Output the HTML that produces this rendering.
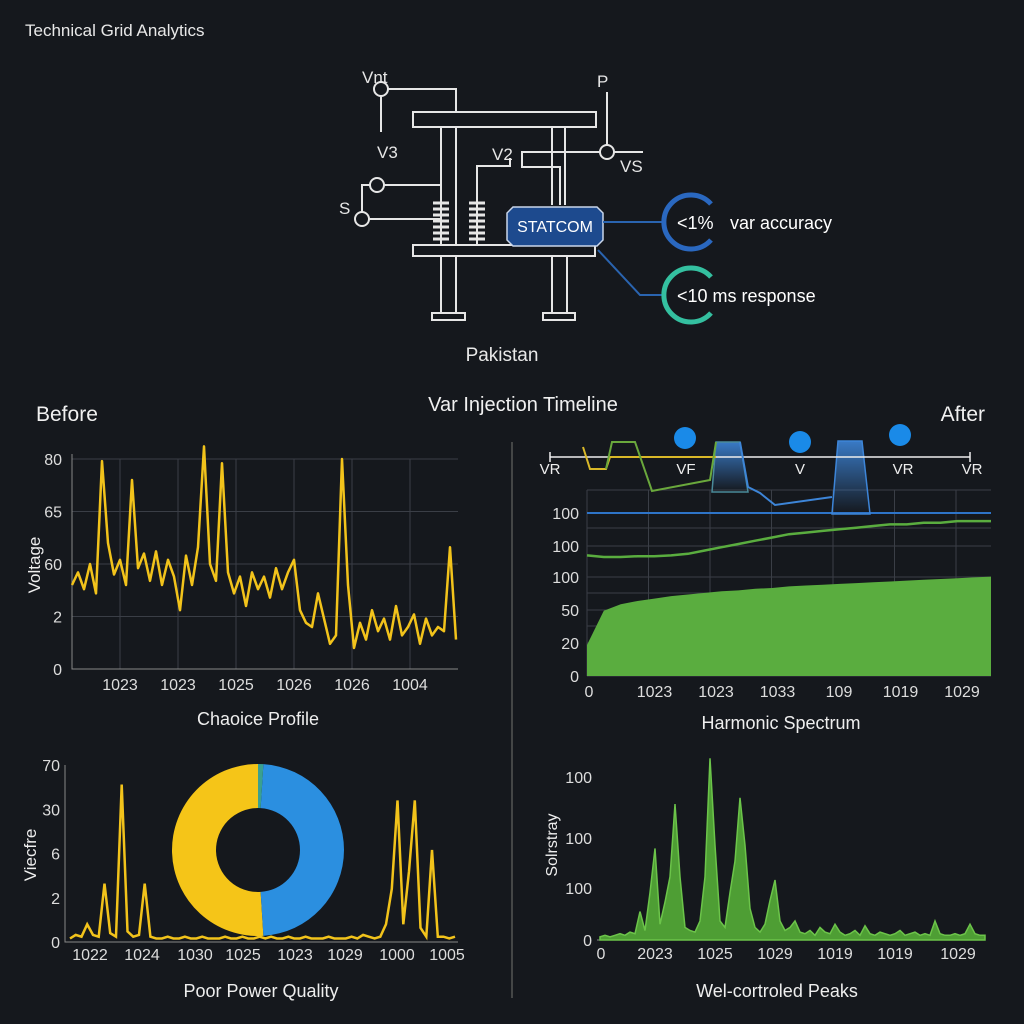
<!DOCTYPE html>
<html><head><meta charset="utf-8"><style>
html,body{margin:0;padding:0;background:#15181d;}
svg{display:block;font-family:"Liberation Sans",sans-serif;}
</style></head><body>
<svg id="root" width="1024" height="1024" viewBox="0 0 1024 1024" xmlns="http://www.w3.org/2000/svg">
<rect width="1024" height="1024" fill="#15181d"/>
<text x="25" y="36" fill="#e8e8e8" font-size="17">Technical Grid Analytics</text>

<g stroke="#e6e6e6" stroke-width="2" fill="none">
  <circle cx="381" cy="89" r="7"/><path d="M388 89H456V112M381 96V132"/>
  <rect x="413" y="112" width="183" height="15"/>
  <path d="M441 127V200M456 127V245M552 127V205M565 127V205"/>
  <path d="M607 92V145M614 152H643M600 152H522V167H560V205"/>
  <circle cx="607" cy="152" r="7"/>
  <circle cx="377" cy="185" r="7"/><path d="M384 185H441V200"/>
  <circle cx="362" cy="219" r="7"/><path d="M369 219H441M362 212V185H370"/>
  <path d="M477 200V166H510V158"/>
  <g stroke-width="3"><path d="M433 203h16M433 209h16M433 215h16M433 221h16M433 227h16M433 233h16M433 239h16M469 203h16M469 209h16M469 215h16M469 221h16M469 227h16M469 233h16M469 239h16"/></g>
  <path d="M441 200V245M477 200V245"/>
  <rect x="413" y="245" width="182" height="11"/>
  <path d="M441 256V313M456 256V313M552 256V313M567 256V313"/>
  <rect x="432" y="313" width="33" height="7"/><rect x="543" y="313" width="32" height="7"/>
</g>
<g fill="#e6e6e6" font-size="17">
  <text x="362" y="83">Vnt</text><text x="377" y="158">V3</text><text x="597" y="87">P</text>
  <text x="492" y="160">V2</text><text x="620" y="172">VS</text><text x="339" y="214">S</text>
</g>
<g>
  <path d="M513 207H597L603 213V240L597 246H513L507 240V213Z" fill="#1d4a8e" stroke="#c9d6ea" stroke-width="1.5"/>
  <text x="555" y="232" fill="#fff" font-size="16" text-anchor="middle">STATCOM</text>
</g>
<path d="M603 222H662" stroke="#2a64b0" stroke-width="2"/>
<path d="M598 250L640 295H662" stroke="#2a64b0" stroke-width="2" fill="none"/>
<path d="M711 204A27 27 0 1 0 711 240" stroke="#2a68c0" stroke-width="5" fill="none"/>
<path d="M711 277A27 27 0 1 0 711 313" stroke="#34c0a0" stroke-width="5" fill="none"/>
<text x="677" y="229" fill="#fff" font-size="18">&lt;1%  <tspan x="730">var accuracy</tspan></text>
<text x="677" y="302" fill="#fff" font-size="18">&lt;10 ms response</text>
<text x="502" y="361" fill="#e8e8e8" font-size="19" text-anchor="middle">Pakistan</text>

<text x="36" y="421" fill="#f0f0f0" font-size="21">Before</text>
<text x="523" y="411" fill="#f0f0f0" font-size="20" text-anchor="middle">Var Injection Timeline</text>
<text x="985" y="421" fill="#f0f0f0" font-size="21" text-anchor="end">After</text>
<line x1="512" y1="442" x2="512" y2="998" stroke="#555" stroke-width="1.5"/>

<g id="tl"></g>
<g id="tr"></g>
<g id="bl"></g>
<g id="br"></g>
</svg>
<script>
const NS="http://www.w3.org/2000/svg";
// ---- data ----
const voltTicks=["0","2","60","65","80"];
const voltXLabels=["1023","1023","1025","1026","1026","1004"];
const voltValues=[40,46,38,50,36,99,60,45,52,40,90,48,55,42,56,40,52,44,28,54,40,58,106,50,42,98,46,36,44,30,46,38,44,34,48,38,46,52,28,22,20,36,24,12,16,100,40,10,22,14,28,18,24,14,30,16,20,26,12,24,16,20,18,58,14];
const harmTicks=["0","20","50","100","100","100"];
const harmXLabels=["0","1023","1023","1033","109","1019","1029"];
const harmArea=[19,40,44,46,47.5,49,50,51,52,52.5,53.5,54,55,55.5,56,56.5,57,57.5,58,58.5,59,59.5,60,60.5,61];
const harmLine=[74,73,73,73.5,73.5,74,75,77,79,81,83,85,87,88,89,90,91,92,93,93,94,94,95,95,95];
const timelineLabels=["VR","VF","V","VR","VR"];
const pqTicks=["0","2","6","30","70"];
const pqXLabels=["1022","1024","1030","1025","1023","1029","1000","1005"];
const pqValues=[2,4,3,10,4,3,33,5,3,89,6,3,4,33,3,2,2,3,2,2,3,2,2,3,2,2,2,3,2,2,3,2,2,3,2,3,2,2,3,2,2,3,2,2,2,3,2,2,2,3,2,4,3,2,3,10,30,80,10,40,80,8,3,52,3,3,2,3];
const donutShares=[51,48,1];
const peakTicks=["0","100","100","100"];
const peakXLabels=["0","2023","1025","1029","1019","1019","1029"];
const peakValues=[2,3,2,3,4,3,5,4,18,6,30,58,10,24,40,86,40,8,6,5,12,40,115,60,12,8,30,50,90,60,20,8,5,10,25,38,12,6,8,12,5,4,6,3,8,5,4,10,5,3,4,6,3,9,4,3,5,4,3,4,6,3,4,5,3,4,3,12,4,3,3,4,3,4,10,4,3,3];

function el(parent,tag,attrs,text){const e=document.createElementNS(NS,tag);for(const k in attrs)e.setAttribute(k,attrs[k]);if(text!=null)e.textContent=text;parent.appendChild(e);return e;}
function lin(d0,d1,r0,r1){return v=>r0+(v-d0)/(d1-d0)*(r1-r0);}

// ---- top-left voltage ----
(function(){
 const g=document.getElementById('tl');
 const X0=72,X1=458,Y0=669,Y1=459;
 const y=lin(0,100,Y0,Y1);
 voltTicks.forEach((t,i)=>{const yy=y(i*25);
  const l=el(g,'line',{x1:X0,x2:X1,y1:yy,y2:yy,stroke:'#3a3e46','stroke-width':1});
  
  const tx=el(g,'text',{x:62,y:yy+6,fill:'#ddd','font-size':16,'text-anchor':'end'},t);
  });
 voltXLabels.forEach((t,i)=>{const xx=120+i*58;
  const l=el(g,'line',{x1:xx,x2:xx,y1:Y1,y2:Y0,stroke:'#3a3e46','stroke-width':1});
  
  const tx=el(g,'text',{x:xx,y:690,fill:'#ddd','font-size':16,'text-anchor':'middle'},t);
  });
 const ax=el(g,'path',{d:`M${X0} ${Y1-5}V${Y0}H${X1}`,stroke:'#888',fill:'none'});
 
 const x=lin(0,voltValues.length-1,X0,456);
 const p=el(g,'path',{d:voltValues.map((v,i)=>(i?'L':'M')+x(i).toFixed(1)+' '+y(v).toFixed(1)).join(''),stroke:'#f2c31b','stroke-width':2.5,fill:'none','stroke-linejoin':'round'});
 
 const yl=el(g,'text',{x:0,y:0,fill:'#eee','font-size':17,'text-anchor':'middle',transform:'translate(40,565) rotate(-90)'},'Voltage');
 
 const tt=el(g,'text',{x:258,y:725,fill:'#eee','font-size':18,'text-anchor':'middle'},'Chaoice Profile');
 
})();

// ---- top-right harmonic ----
(function(){
 const g=document.getElementById('tr');
 const X0=587,X1=991,Y0=676,Y1=513;
 const tickY=[676,643,610,577,546,513];
 [490,528,593,626].forEach(yy=>{const l=el(g,'line',{x1:X0,x2:X1,y1:yy,y2:yy,stroke:'#3a3e46'});});
 harmTicks.forEach((t,i)=>{const yy=tickY[i];
  const l=el(g,'line',{x1:X0,x2:X1,y1:yy,y2:yy,stroke:'#3a3e46'});
  
  const tx=el(g,'text',{x:579,y:yy+6,fill:'#ddd','font-size':16,'text-anchor':'end'},t);
  });
 harmXLabels.forEach((t,i)=>{const xx=X0+i*61.5;
  const l=el(g,'line',{x1:xx,x2:xx,y1:490,y2:Y0,stroke:'#3a3e46'});
  
  const tx=el(g,'text',{x:i?xx+6:xx+2,y:697,fill:'#ddd','font-size':16,'text-anchor':'middle'},t);
  });
 const y=lin(0,100,Y0,Y1);
 const x=lin(0,harmArea.length-1,X0,X1);
 const ad='M'+X0+' '+Y0+harmArea.map((v,i)=>'L'+x(i).toFixed(1)+' '+y(v).toFixed(1)).join('')+'L'+X1+' '+Y0+'Z';
 const a=el(g,'path',{d:ad,fill:'#5aad3f','stroke-linejoin':'round'});
 
 const bl=el(g,'line',{x1:X0,x2:X1,y1:513,y2:513,stroke:'#2e74c8','stroke-width':2});
 
 const ln=el(g,'path',{d:harmLine.map((v,i)=>(i?'L':'M')+x(i).toFixed(1)+' '+y(v).toFixed(1)).join(''),stroke:'#5aad3f','stroke-width':2.5,fill:'none'});
 
 const defs=el(g,'defs',{});const gr=el(defs,'linearGradient',{id:'bf',x1:0,y1:0,x2:0,y2:1});
 el(gr,'stop',{offset:0,'stop-color':'#3d85d8','stop-opacity':0.9});el(gr,'stop',{offset:1,'stop-color':'#3d85d8','stop-opacity':0});
 const b1=el(g,'path',{d:'M716 442H740L748 492H712Z',fill:'url(#bf)',stroke:'#4a8a9a','stroke-width':1.5});
 
 const b2=el(g,'path',{d:'M838 441H862L870 514H832Z',fill:'url(#bf)',stroke:'#3d85d8','stroke-width':1.5});
 
 const ta=el(g,'path',{d:'M550 457H970M550 452V462M970 452V462',stroke:'#eee','stroke-width':1.5,fill:'none'});
 
 const yl=el(g,'path',{d:'M583 447L590 469H606L610 457H716',stroke:'#d9b828','stroke-width':2,fill:'none'});
 
 const gl=el(g,'path',{d:'M606 469L612 442H635L652 491L710 480L716 442',stroke:'#6aa83c','stroke-width':2,fill:'none'});
 
 const bl2=el(g,'path',{d:'M740 442L748 487L760 493L775 505L832 497',stroke:'#3d85d8','stroke-width':2,fill:'none'});
 
 const lx=[550,686,800,903,972];
 timelineLabels.forEach((t,i)=>{const tx=el(g,'text',{x:lx[i],y:474,fill:'#eee','font-size':15,'text-anchor':'middle'},t);
  });
 [[685,438],[800,442],[900,435]].forEach(c=>{const d=el(g,'circle',{cx:c[0],cy:c[1],r:11,fill:'#1a8ae8'});
  });
 const tt=el(g,'text',{x:781,y:729,fill:'#eee','font-size':18,'text-anchor':'middle'},'Harmonic Spectrum');
 
})();

// ---- bottom-left ----
(function(){
 const g=document.getElementById('bl');
 const X0=65,X1=458,Y0=942,Y1=765;
 const y=lin(0,100,Y0,Y1);
 pqTicks.forEach((t,i)=>{const yy=y(i*25);
  const tx=el(g,'text',{x:60,y:yy+6,fill:'#ddd','font-size':16,'text-anchor':'end'},t);
  });
 pqXLabels.forEach((t,i)=>{const xx=[90,142,195,243,295,345,397,447][i];
  const tx=el(g,'text',{x:xx,y:960,fill:'#ddd','font-size':16,'text-anchor':'middle'},t);
  });
 const ax=el(g,'path',{d:`M${X0} ${Y1}V${Y0}H${X1}`,stroke:'#888',fill:'none'});
 
 const x=lin(0,pqValues.length-1,70,455);
 const p=el(g,'path',{d:pqValues.map((v,i)=>(i?'L':'M')+x(i).toFixed(1)+' '+y(v).toFixed(1)).join(''),stroke:'#f2c31b','stroke-width':2.5,fill:'none'});
 
 const cols=['#f5c518','#2b8fe0','#3aa090'];
 const cx=258,cy=850,R=86,r=42;
 const tot=donutShares.reduce((a,b)=>a+b,0);
 let ang=0;
 donutShares.forEach((s,i)=>{
  const a0=ang,a1=ang+s/tot*2*Math.PI;ang=a1;
  const pt=(rad,a)=>[cx-rad*Math.sin(a),cy-rad*Math.cos(a)];
  const [x0,y0]=pt(R,a0),[x1,y1]=pt(R,a1),[x2,y2]=pt(r,a1),[x3,y3]=pt(r,a0);
  const lg=(a1-a0)>Math.PI?1:0;
  const d=`M${x0} ${y0}A${R} ${R} 0 ${lg} 0 ${x1} ${y1}L${x2} ${y2}A${r} ${r} 0 ${lg} 1 ${x3} ${y3}Z`;
  const sl=el(g,'path',{d:d,fill:cols[i]});
  
 });
 const yl=el(g,'text',{x:0,y:0,fill:'#eee','font-size':17,'text-anchor':'middle',transform:'translate(36,855) rotate(-90)'},'Viecfre');
 
 const tt=el(g,'text',{x:261,y:997,fill:'#eee','font-size':18,'text-anchor':'middle'},'Poor Power Quality');
 
})();

// ---- bottom-right ----
(function(){
 const g=document.getElementById('br');
 const X0=597,X1=985,Y0=940,Y1=777;
 const tickY=[940,888,838,777];
 peakTicks.forEach((t,i)=>{const tx=el(g,'text',{x:592,y:tickY[i]+6,fill:'#ddd','font-size':16,'text-anchor':'end'},t);
  });
 peakXLabels.forEach((t,i)=>{const xx=[601,655,715,775,835,895,958][i];
  const tx=el(g,'text',{x:xx,y:959,fill:'#ddd','font-size':16,'text-anchor':'middle'},t);
  });
 const ax=el(g,'path',{d:`M${X0} ${Y0}H${X1}`,stroke:'#888',fill:'none'});
 
 const y=lin(0,100,Y0,Y1+5);
 const x=lin(0,peakValues.length-1,600,985);
 const d='M600 '+Y0+peakValues.map((v,i)=>'L'+x(i).toFixed(1)+' '+y(v).toFixed(1)).join('')+'L985 '+Y0+'Z';
 const a=el(g,'path',{d:d,fill:'#4e9e34',stroke:'#6cc44a','stroke-width':1.5});
 
 const yl=el(g,'text',{x:0,y:0,fill:'#eee','font-size':16,'text-anchor':'middle',transform:'translate(557,845) rotate(-90)'},'Solrstray');
 
 const tt=el(g,'text',{x:777,y:997,fill:'#eee','font-size':18,'text-anchor':'middle'},'Wel-cortroled Peaks');
 
})();
</script>
</body></html>
